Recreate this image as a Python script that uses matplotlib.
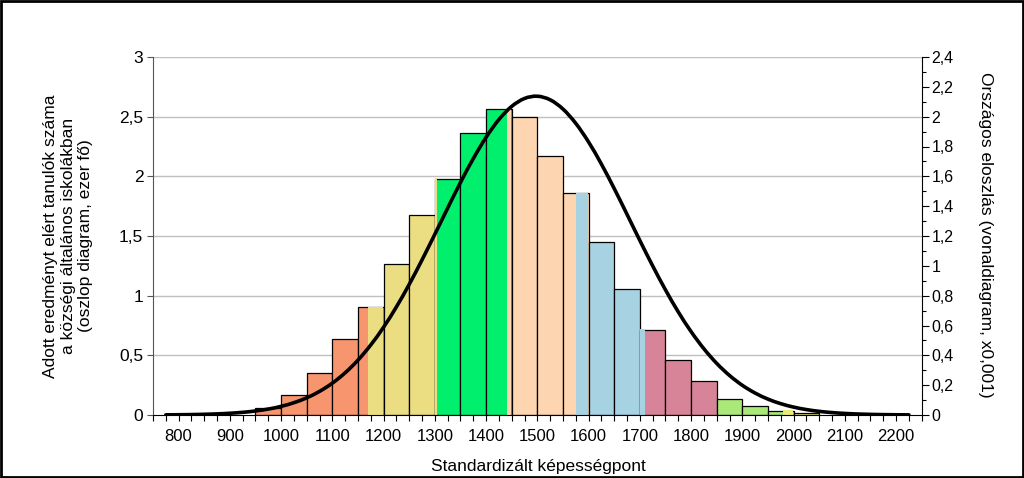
import matplotlib
matplotlib.use("Agg")
import matplotlib.pyplot as plt
from matplotlib.patches import Rectangle, PathPatch
from matplotlib.path import Path
from matplotlib.ticker import MultipleLocator, FuncFormatter

plt.rcParams['font.family'] = ['Liberation Sans', 'DejaVu Sans']

# ---- data ----
bin_starts = [950, 1000, 1050, 1100, 1150, 1200, 1250, 1300, 1350, 1400, 1450,
              1500, 1550, 1600, 1650, 1700, 1750, 1800, 1850, 1900, 1950, 2000]
bin_values = [0.056, 0.166, 0.351, 0.64, 0.905, 1.264, 1.677, 1.978, 2.365, 2.562, 2.50,
              2.168, 1.86, 1.452, 1.053, 0.714, 0.461, 0.287, 0.135, 0.073, 0.034, 0.02]
bin_width = 50

level_bounds = [700, 1170, 1305, 1440, 1575, 1710, 1850, 1980, 2300]
level_colors = ['#F7966E', '#EBDE82', '#00F06E', '#FDD5B0', '#A6D2E2',
                '#D88498', '#AAE878', '#EAEA78']

curve_x = list(range(775, 2226, 25))
curve_y = [0.0011, 0.0018, 0.0029, 0.0047, 0.0075, 0.0117, 0.0179, 0.0270, 0.0399, 0.0579,
           0.0825, 0.1154, 0.1584, 0.2137, 0.2830, 0.368, 0.470, 0.589, 0.725, 0.876,
           1.040, 1.212, 1.387, 1.559, 1.719, 1.862, 1.981, 2.069, 2.122, 2.137,
           2.113, 2.051, 1.955, 1.830, 1.682, 1.518, 1.345, 1.170, 1.000, 0.839,
           0.691, 0.559, 0.444, 0.346, 0.265, 0.199, 0.147, 0.1066, 0.0759, 0.0530,
           0.0364, 0.0245, 0.0162, 0.0105, 0.0067, 0.0042, 0.0026, 0.0016, 0.0009]

left_ticks = [0, 0.5, 1, 1.5, 2, 2.5, 3]
right_ticks = [0, 0.2, 0.4, 0.6, 0.8, 1, 1.2, 1.4, 1.6, 1.8, 2, 2.2, 2.4]
x_ticks = list(range(800, 2201, 100))

xlabel = 'Standardizált képességpont'
ylabel_left = 'Adott eredményt elért tanulók száma\na községi általános iskolákban\n(oszlop diagram, ezer fő)'
ylabel_right = 'Országos eloszlás (vonaldiagram, x0,001)'


def level_of(x):
    for i in range(len(level_colors)):
        if level_bounds[i] <= x < level_bounds[i + 1]:
            return i
    return len(level_colors) - 1


def comma(v, pos=None):
    return ('%g' % v).replace('.', ',')


# ---- figure ----
fig = plt.figure(figsize=(10.24, 4.78), dpi=100)
ax = fig.add_axes([153 / 1024, 1 - 415 / 478, (921.7 - 153) / 1024, (415 - 57) / 478])
ax.set_xlim(750, 2250)
ax.set_ylim(0, 3)

# gridlines
for t in left_ticks[1:]:
    ax.axhline(t, color='#C0C0C0', lw=1.0, zorder=0.5)

# bars
for s, v in zip(bin_starts, bin_values):
    main = level_of(s + 15)
    ax.add_patch(Rectangle((s, 0), bin_width, v, facecolor=level_colors[main],
                           edgecolor='black', lw=0.9, zorder=2))
    # parts of the bin lying in other levels
    for i in range(len(level_colors)):
        a = max(s, level_bounds[i])
        b = min(s + bin_width, level_bounds[i + 1])
        if b > a and i != main:
            a2 = a + (1.0 if a == s else 0)
            b2 = b - (1.0 if b == s + bin_width else 0)
            ax.add_patch(Rectangle((a2, 0), b2 - a2, v + 0.004, facecolor=level_colors[i],
                                   edgecolor='none', lw=0, zorder=3))

ax.set_xticks(x_ticks)
ax.set_xticklabels([str(t) for t in x_ticks])
ax.xaxis.set_minor_locator(MultipleLocator(25))
ax.tick_params(axis='x', which='both', direction='out', length=4, width=0.8,
               labelsize=12, pad=6)
ax.set_yticks(left_ticks)
ax.yaxis.set_major_formatter(FuncFormatter(comma))
ax.tick_params(axis='y', which='major', direction='out', length=4, width=0.8,
               labelsize=12.5, pad=3, color='#555555')
for sp in ['top', 'right']:
    ax.spines[sp].set_visible(False)
ax.spines['left'].set_color('#555555')
ax.spines['bottom'].set_color('black')
ax.spines['bottom'].set_zorder(5)

# right axis with curve
ax2 = ax.twinx()
ax2.set_ylim(0, 2.4)
ax2.set_yticks(right_ticks)
ax2.yaxis.set_major_formatter(FuncFormatter(comma))
ax2.yaxis.set_minor_locator(MultipleLocator(0.1))
ax2.tick_params(axis='y', which='major', direction='out', length=5, width=0.8,
                labelsize=11.5, pad=2)
ax2.tick_params(axis='y', which='minor', direction='out', length=3, width=0.8)
for sp in ['top', 'left', 'bottom']:
    ax2.spines[sp].set_visible(False)

# smooth curve (Catmull-Rom -> cubic Bezier)
pts = list(zip(curve_x, curve_y))
verts = [pts[0]]
codes = [Path.MOVETO]
for i in range(len(pts) - 1):
    p0 = pts[i - 1] if i > 0 else pts[i]
    p1 = pts[i]
    p2 = pts[i + 1]
    p3 = pts[i + 2] if i + 2 < len(pts) else pts[i + 1]
    c1 = (p1[0] + (p2[0] - p0[0]) / 6, p1[1] + (p2[1] - p0[1]) / 6)
    c2 = (p2[0] - (p3[0] - p1[0]) / 6, p2[1] - (p3[1] - p1[1]) / 6)
    verts += [c1, c2, p2]
    codes += [Path.CURVE4] * 3
ax2.add_patch(PathPatch(Path(verts, codes), facecolor='none', edgecolor='black',
                        lw=2.6, zorder=6, capstyle='round', joinstyle='round'))

# labels
fig.text(538 / 1024, 1 - 466 / 478, xlabel, ha='center', va='center', fontsize=12.5)
fig.text(68 / 1024, 1 - 236 / 478, ylabel_left, ha='center', va='center', rotation=90,
         fontsize=12.5, multialignment='center', linespacing=1.2)
fig.text(985 / 1024, 1 - 235 / 478, ylabel_right, ha='center', va='center', rotation=270,
         fontsize=12.5)

# outer frame
fig.patches.append(Rectangle((0.001, 0.002), 0.998, 0.996, transform=fig.transFigure,
                             fill=False, edgecolor='black', lw=2))

fig.savefig('out.png', dpi=100)
